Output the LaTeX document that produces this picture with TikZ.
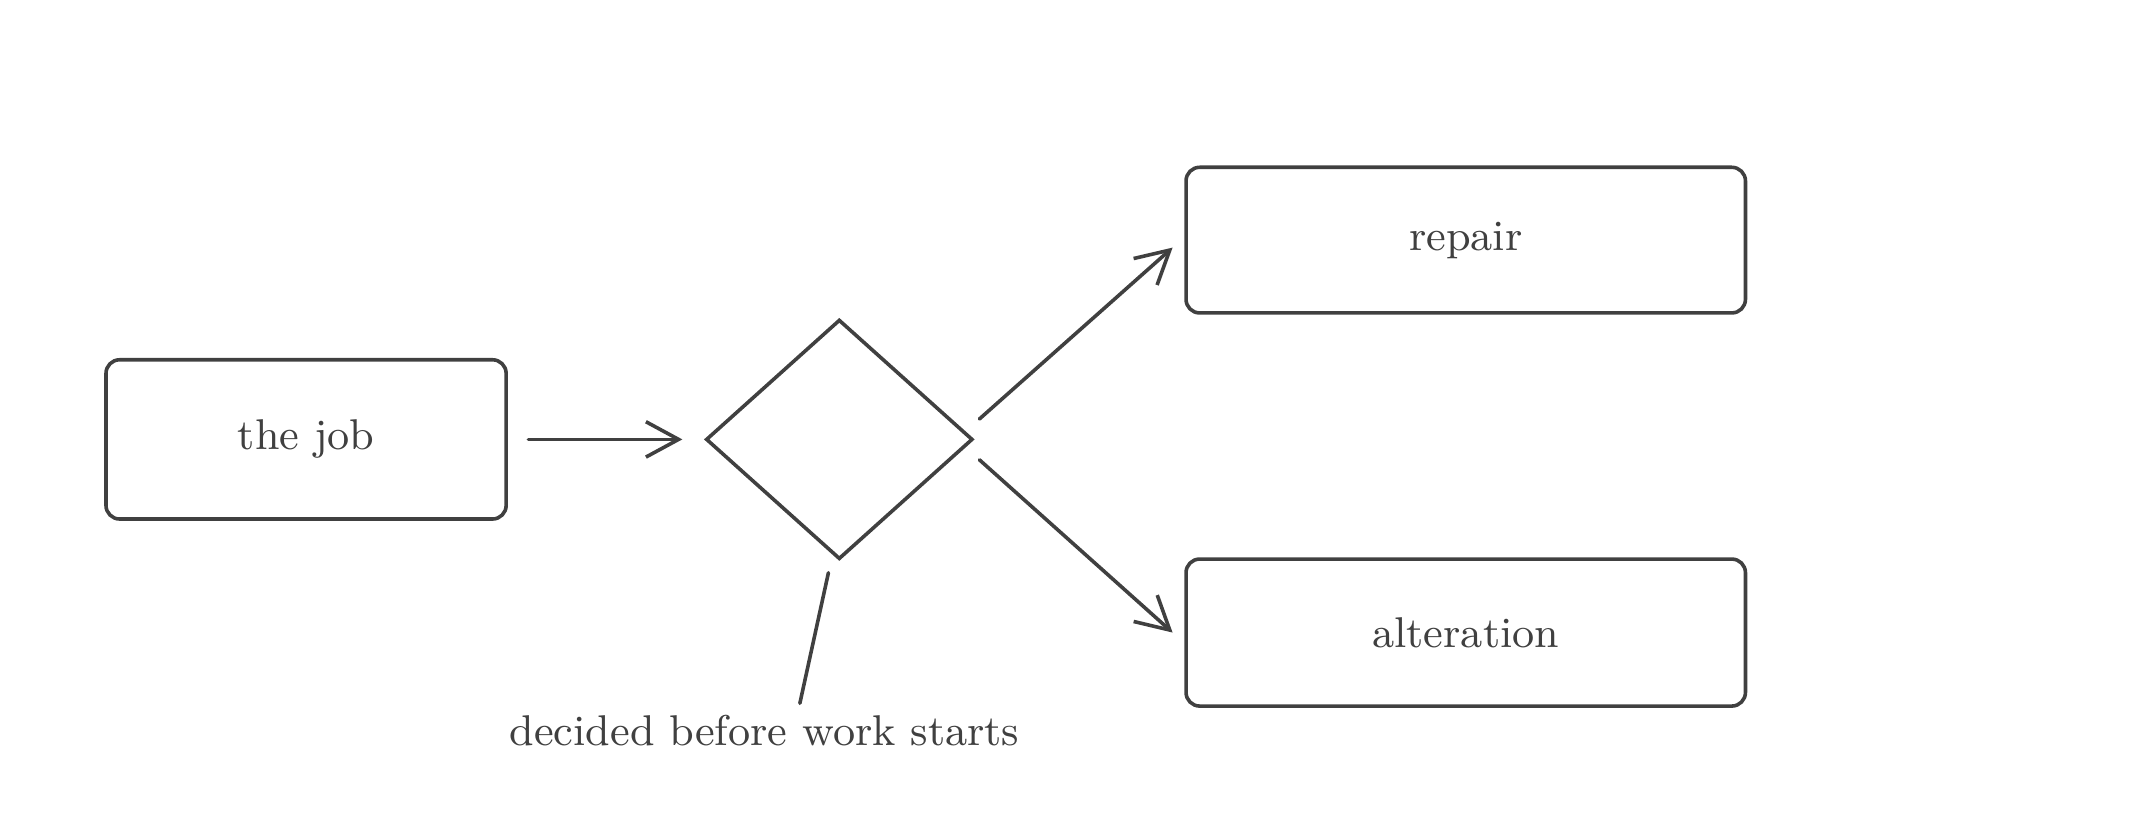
\documentclass[tikz,border=0pt]{standalone}
\usepackage{tikz}
\usetikzlibrary{shapes.geometric,arrows.meta}
\definecolor{ink}{HTML}{404040}
\tikzset{
  box/.style={draw=ink, line width=0.75pt, rounded corners=1mm, inner sep=0pt, font=\fontsize{9}{10}\selectfont, text=ink},
  choice/.style={draw=ink, line width=0.75pt, diamond, minimum width=1.96cm, minimum height=1.76cm, inner sep=0pt, aspect=1.11},
  flow/.style={draw=ink, line width=0.75pt, line cap=round, -{Straight Barb[length=2.4mm,width=2.6mm,line width=0.75pt]}},
  note/.style={draw=ink, line width=0.75pt, line cap=round}
}
\begin{document}
\begin{tikzpicture}[x=0.01cm,y=-0.01cm]
  \useasboundingbox (0,0) rectangle (1568,608);
  \node [box, minimum width=2.94cm, minimum height=1.17cm] (job) at (225,323) {the job};
  \node [choice] (dia) at (617,323) {};
  \node [box, minimum width=4.11cm, minimum height=1.07cm] (repair) at (1077.5,176.5) {repair};
  \node [box, minimum width=4.11cm, minimum height=1.08cm] (alter) at (1077.5,465) {alteration};
  \node [font=\fontsize{9}{10}\selectfont, text=ink] (why) at (562,537) {decided before work starts};
  \coordinate (upS) at (720,308);
  \coordinate (upE) at (862,182);
  \coordinate (dnS) at (720,338);
  \coordinate (dnE) at (862,465);
  \coordinate (noteS) at (609,421);
  \coordinate (noteE) at (588,517);
  \draw [flow, shorten <=0.15cm, shorten >=0.16cm] (job.east) -- (dia.west);
  \draw [flow] (upS) -- (upE);
  \draw [flow] (dnS) -- (dnE);
  \draw [note] (noteS) -- (noteE);
\end{tikzpicture}
\end{document}
